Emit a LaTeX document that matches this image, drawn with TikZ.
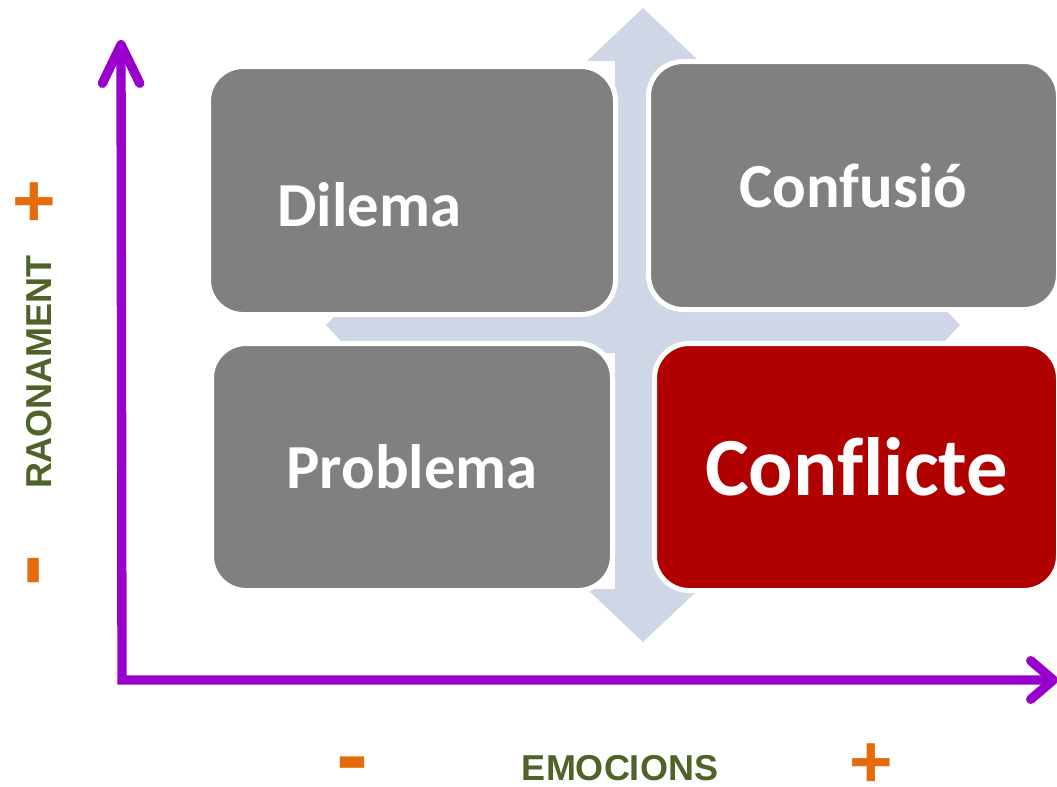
\documentclass[tikz,border=0pt]{standalone}
\usepackage{fontspec}
\setmainfont{Carlito}[Ligatures=CommonOff]
\setsansfont{Liberation Sans}
\usetikzlibrary{arrows.meta}

\definecolor{axispurple}{RGB}{153,0,204}
\definecolor{crossblue}{RGB}{207,214,230}
\definecolor{boxgray}{RGB}{128,128,128}
\definecolor{boxred}{RGB}{176,0,0}
\definecolor{labelgreen}{RGB}{79,98,40}
\definecolor{signorange}{RGB}{228,108,10}

\tikzset{every picture/.style={line width=0.75pt}}
\tikzset{
  quadbox/.style={draw=white, line width=3.75pt, rounded corners=26pt, inner sep=0pt,
    text=white, font=\bfseries\fontsize{47}{50}\selectfont},
  axis/.style={draw=axispurple, line width=7pt,
    arrows={Straight Barb[length=29pt,width=28pt,round]-Straight Barb[length=17pt,width=29pt,round]}},
  axislabel/.style={text=labelgreen, font=\sffamily\bfseries\fontsize{27}{30}\selectfont, inner sep=0pt},
  sign/.style={text=signorange, font=\sffamily\bfseries\fontsize{56}{60}\selectfont, inner sep=0pt},
  minussign/.style={sign, font=\sffamily\bfseries\fontsize{72}{76}\selectfont}
}

\begin{document}
\begin{tikzpicture}[x=0.75pt,y=0.75pt,yscale=-1,xscale=1]
  \useasboundingbox (0,0) rectangle (1057,786);
  \clip (0,0) rectangle (1057,786);

  %four-way arrow behind the boxes
  \fill[crossblue] (643,8) -- (699,61) -- (671,61) -- (671,297) -- (907,297) -- (907,269) -- (960,325)
    -- (907,381) -- (907,353) -- (671,353) -- (671,589) -- (699,589) -- (643,642) -- (587,589)
    -- (615,589) -- (615,353) -- (379,353) -- (379,381) -- (326,325) -- (379,269) -- (379,297)
    -- (615,297) -- (615,61) -- (587,61) -- cycle;

  \node[quadbox, fill=boxgray, minimum width=305.25pt, minimum height=186pt,
    label={[text=white, font=\bfseries\fontsize{47}{50}\selectfont, xshift=-32pt, yshift=-11pt]center:Dilema}]
    (dilema) at (412,190.5) {};
  \node[quadbox, fill=boxgray, minimum width=307.5pt, minimum height=186pt] (confusio) at (853.5,185.5) {Confusió};
  \node[quadbox, fill=boxgray, minimum width=300.75pt, minimum height=185.25pt] (problema) at (412,467) {Problema};
  \node[quadbox, fill=boxred, minimum width=303pt, minimum height=185.25pt,
    font=\bfseries\fontsize{62}{66}\selectfont] (conflicte) at (856.5,467) {Conflicte};

  %axes
  \coordinate (ytop) at (121,40);
  \coordinate (origin) at (122,680);
  \coordinate (xend) at (1058,680);
  \draw[axis] (ytop) -- (origin) -- (xend);

  \node[axislabel, rotate=90] (raonament) at (39,372) {RAONAMENT};
  \node[axislabel] (emocions) at (620,768) {EMOCIONS};
  \node[sign] (yplus) at (34,205) {+};
  \node[minussign, rotate=90] (yminus) at (43,571) {-};
  \node[minussign] (xminus) at (352,772) {-};
  \node[sign] (xplus) at (871,766) {+};

\end{tikzpicture}
\end{document}
